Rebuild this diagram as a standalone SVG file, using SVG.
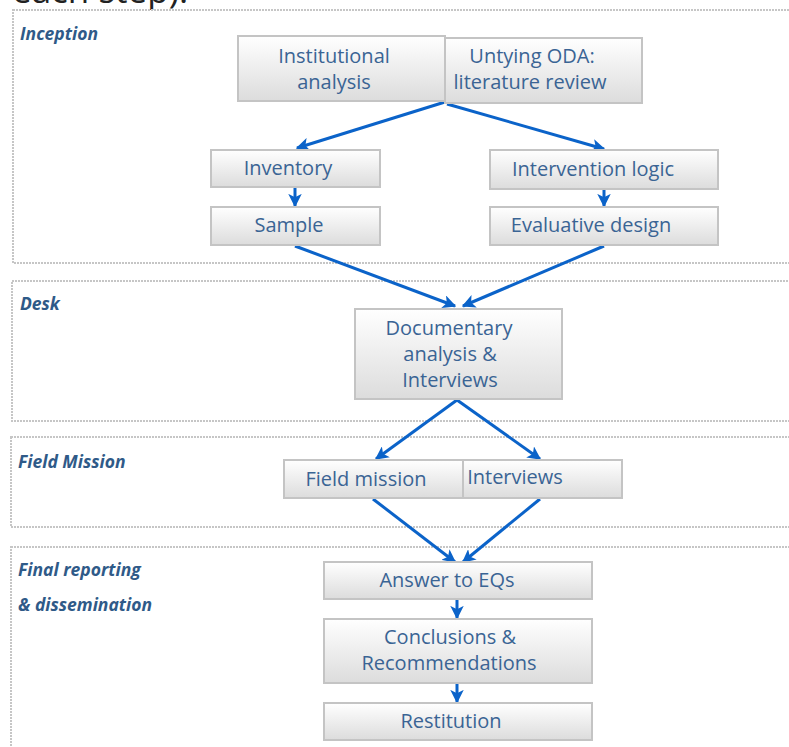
<svg xmlns="http://www.w3.org/2000/svg" width="789" height="747" viewBox="0 0 789 747">
<defs>
<linearGradient id="g" x1="0" y1="0" x2="0" y2="1">
<stop offset="0" stop-color="#ffffff"/>
<stop offset="1" stop-color="#dcdcdc"/>
</linearGradient>
<marker id="ah" viewBox="0 0 10 10" refX="9" refY="5" markerWidth="4.5" markerHeight="4.5" orient="auto" markerUnits="strokeWidth">
<path d="M0,0 L10,5 L0,10 L2.5,5 z" fill="#0b63c9"/>
</marker>
<style>
.panel{fill:#ffffff;stroke:#c6c6c6;stroke-width:2;stroke-dasharray:2 1}
.box{fill:url(#g);stroke:#c4c4c4;stroke-width:2}
.t{font-family:"Open Sans","Noto Sans",sans-serif;font-size:20px;fill:#3a6494;text-anchor:middle}
.lab{font-family:"Open Sans","Noto Sans",sans-serif;font-size:17.5px;font-weight:bold;font-style:italic;fill:#2f5a88}
.c{fill:none;stroke:#0b63c9;stroke-width:3;marker-end:url(#ah)}
</style>
</defs>
<rect width="789" height="747" fill="#ffffff"/>
<text x="12" y="3" font-family="'Open Sans','Noto Sans',sans-serif" font-size="35" fill="#222">each step).</text>
<g id="panels">
<g id="p-inception"><rect class="panel" x="13" y="10" width="790" height="253"/><text class="lab" x="20" y="40">Inception</text></g>
<g id="p-desk"><rect class="panel" x="12" y="281" width="790" height="140"/><text class="lab" x="20" y="310">Desk</text></g>
<g id="p-field"><rect class="panel" x="11" y="437" width="790" height="90"/><text class="lab" x="18" y="468">Field Mission</text></g>
<g id="p-final"><rect class="panel" x="11" y="547" width="790" height="220"/><text class="lab" x="18" y="576">Final reporting</text><text class="lab" x="18" y="611">&amp; dissemination</text></g>
</g>
<g id="connectors">
<line class="c" x1="445" y1="102" x2="297" y2="148"/>
<line class="c" x1="447" y1="104" x2="604" y2="149"/>
<line class="c" x1="295" y1="188" x2="295" y2="206"/>
<line class="c" x1="604" y1="190" x2="604" y2="206"/>
<line class="c" x1="295" y1="246" x2="455" y2="306"/>
<line class="c" x1="604" y1="246" x2="463" y2="306"/>
<line class="c" x1="457" y1="400" x2="376" y2="459"/>
<line class="c" x1="457" y1="400" x2="540" y2="459"/>
<line class="c" x1="373" y1="499" x2="455" y2="562"/>
<line class="c" x1="540" y1="499" x2="463" y2="562"/>
<line class="c" x1="457" y1="600" x2="457" y2="618"/>
<line class="c" x1="457" y1="684" x2="457" y2="702"/>
</g>
<g id="n-inst"><rect class="box" x="238" y="36" width="207" height="65"/><text class="t" x="334" y="63">Institutional</text><text class="t" x="334" y="89">analysis</text></g>
<g id="n-untying"><rect class="box" x="445" y="38" width="197" height="65"/><text class="t" x="532" y="63">Untying ODA:</text><text class="t" x="530" y="89">literature review</text></g>
<g id="n-inventory"><rect class="box" x="211" y="150" width="169" height="37"/><text class="t" x="288" y="175">Inventory</text></g>
<g id="n-sample"><rect class="box" x="211" y="207" width="169" height="38"/><text class="t" x="289" y="232">Sample</text></g>
<g id="n-logic"><rect class="box" x="490" y="150" width="228" height="39"/><text class="t" x="593" y="176">Intervention logic</text></g>
<g id="n-eval"><rect class="box" x="490" y="207" width="228" height="38"/><text class="t" x="591" y="232">Evaluative design</text></g>
<g id="n-doc"><rect class="box" x="355" y="309" width="207" height="90"/><text class="t" x="449" y="335">Documentary</text><text class="t" x="450" y="361">analysis &amp;</text><text class="t" x="450" y="387">Interviews</text></g>
<g id="n-field"><rect class="box" x="284" y="460" width="179" height="38"/><text class="t" x="366" y="486">Field mission</text></g>
<g id="n-interviews"><rect class="box" x="463" y="460" width="159" height="38"/><text class="t" x="515" y="484">Interviews</text></g>
<g id="n-answer"><rect class="box" x="324" y="562" width="268" height="37"/><text class="t" x="447" y="587">Answer to EQs</text></g>
<g id="n-concl"><rect class="box" x="324" y="619" width="268" height="64"/><text class="t" x="450" y="644">Conclusions &amp;</text><text class="t" x="449" y="670">Recommendations</text></g>
<g id="n-restit"><rect class="box" x="324" y="703" width="268" height="37"/><text class="t" x="451" y="728">Restitution</text></g>
</svg>
